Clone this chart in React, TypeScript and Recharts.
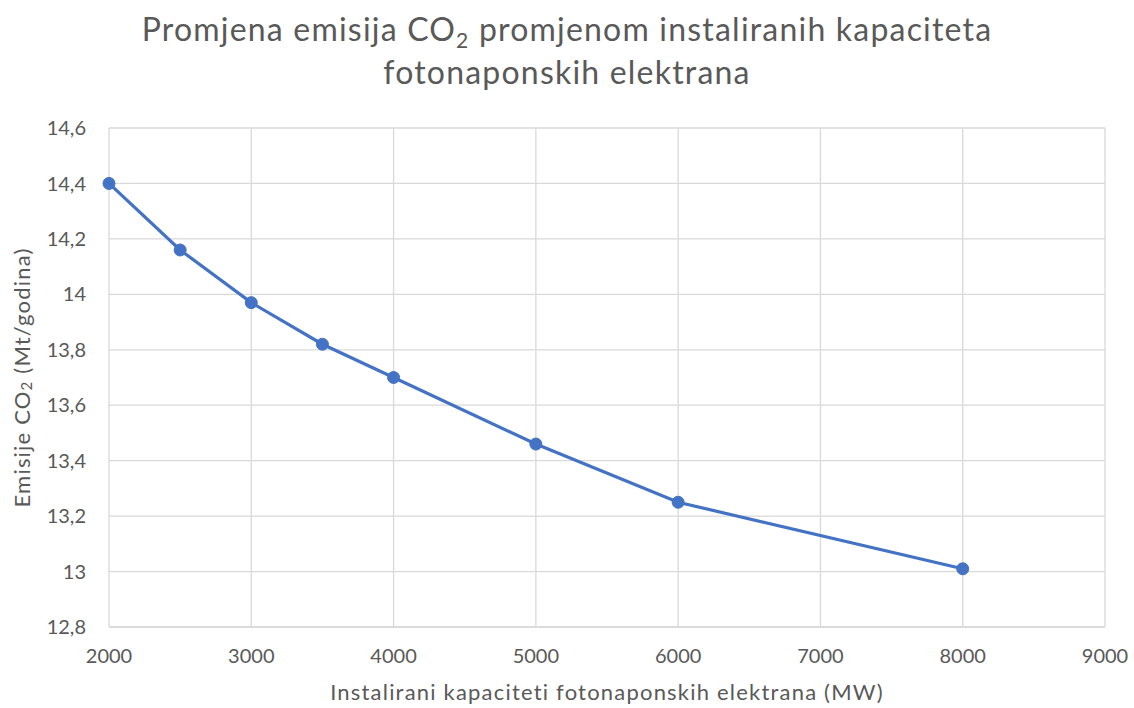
import React from "react";
import {
  LineChart,
  Line,
  XAxis,
  YAxis,
  CartesianGrid,
  Label,
} from "recharts";

const capacityMW = [2000, 2500, 3000, 3500, 4000, 5000, 6000, 8000];
const emissions = [14.4, 14.16, 13.97, 13.82, 13.7, 13.46, 13.25, 13.01];
const xTicks = [2000, 3000, 4000, 5000, 6000, 7000, 8000, 9000];
const yTicks = [12.8, 13, 13.2, 13.4, 13.6, 13.8, 14, 14.2, 14.4, 14.6];

const data = capacityMW.map((mw, i) => ({ mw, co2: emissions[i] }));

const FONT = "Lato, 'Open Sans', sans-serif";
const GREY = "#595959";

const fmt = (v: number) => String(Math.round(v * 10) / 10).replace(".", ",");

function YLabel(props: any) {
  const vb = props.viewBox || {};
  const cy = vb.y + vb.height / 2;
  const x = 21;
  return (
    <text
      x={x}
      y={cy}
      transform={`rotate(-90, ${x}, ${cy})`}
      textAnchor="middle"
      dominantBaseline="central"
      fill={GREY}
      fontSize={22}
      letterSpacing={1.2}
      fontFamily={FONT}
    >
      <tspan>Emisije CO</tspan>
      <tspan dy={5} fontSize={15}>2</tspan>
      <tspan dy={-5}> (Mt/godina)</tspan>
    </text>
  );
}

export default function App() {
  return (
    <div
      style={{
        position: "absolute",
        left: 0,
        top: 0,
        width: 1134,
        height: 708,
        background: "#fff",
        fontFamily: FONT,
      }}
    >
      <div
        style={{
          position: "absolute",
          left: 0,
          top: 7,
          width: 1134,
          textAlign: "center",
          color: GREY,
          fontSize: 32,
          letterSpacing: 1.2,
          lineHeight: "43px",
        }}
      >
        Promjena emisija CO<sub style={{ fontSize: 21, lineHeight: 0 }}>2</sub> promjenom
        instaliranih kapaciteta
        <br />
        fotonaponskih elektrana
      </div>
      <LineChart
        width={1134}
        height={708}
        data={data}
        margin={{ top: 128, right: 29, bottom: 41, left: 39 }}
      >
        <CartesianGrid stroke="#d9d9d9" strokeWidth={1.3} />
        <XAxis
          dataKey="mw"
          type="number"
          domain={[2000, 9000]}
          ticks={xTicks}
          axisLine={{ stroke: "#d9d9d9", strokeWidth: 1.3 }}
          tickLine={false}
          tick={{ fill: GREY, fontSize: 20, fontFamily: FONT }}
          tickMargin={16}
          height={40}
        >
          <Label
            value="Instalirani kapaciteti fotonaponskih elektrana (MW)"
            position="bottom"
            offset={17}
            fill={GREY}
            fontSize={22}
            letterSpacing={1.2}
            fontFamily={FONT}
          />
        </XAxis>
        <YAxis
          type="number"
          domain={[12.8, 14.6]}
          ticks={yTicks}
          tickFormatter={fmt}
          axisLine={false}
          tickLine={false}
          tick={{ fill: GREY, fontSize: 20, fontFamily: FONT }}
          tickMargin={17}
          width={70}
          label={<YLabel />}
        />
        <Line
          dataKey="co2"
          stroke="#4472C4"
          strokeWidth={3.2}
          dot={{ r: 6, fill: "#4472C4", stroke: "#4472C4", strokeWidth: 1 }}
          isAnimationActive={false}
        />
      </LineChart>
    </div>
  );
}
